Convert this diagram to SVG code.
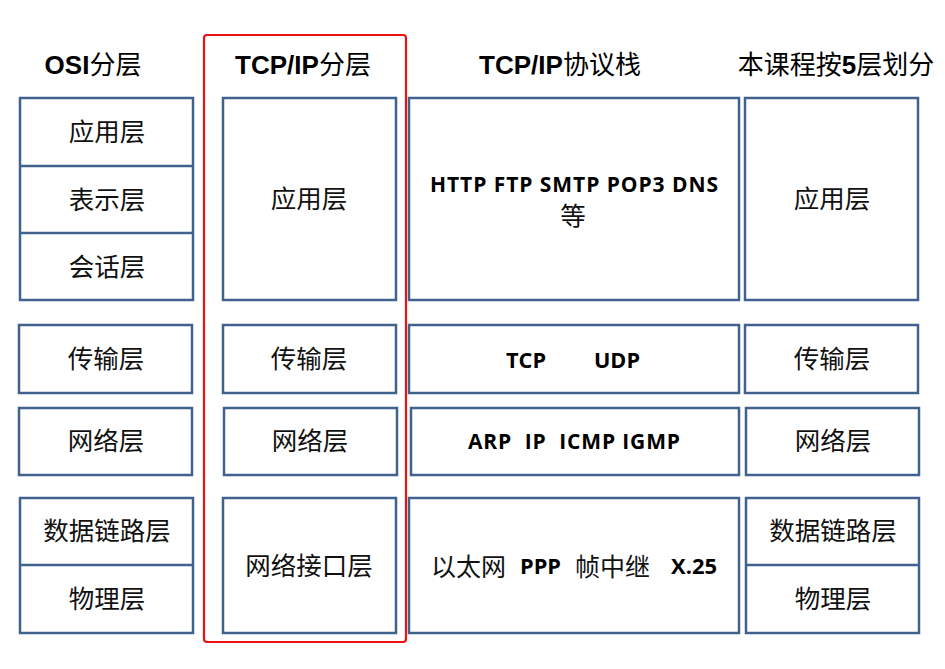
<svg xmlns="http://www.w3.org/2000/svg" width="945" height="669" viewBox="0 0 945 669">
<style>
.box{fill:#fff;stroke:#41618E;stroke-width:2.5}
.div{stroke:#41618E;stroke-width:2.5}
.t{font-family:"Noto Sans CJK SC","Noto Sans",sans-serif;font-size:25.5px;fill:#111;text-anchor:middle}
.title{font-family:"Noto Sans CJK SC",sans-serif;font-size:26px;fill:#000;text-anchor:middle}
.lb{font-family:"Liberation Sans",Arial,sans-serif;font-weight:bold}
.p{font-family:"Open Sans","Noto Sans",sans-serif;font-weight:bold;font-size:21px;fill:#000;text-anchor:middle}
.ps{font-family:"Open Sans","Noto Sans",sans-serif;font-weight:bold;font-size:21px;fill:#000}
.cs{font-family:"Noto Sans CJK SC",sans-serif;font-size:25px;fill:#111}
</style>
<rect width="945" height="669" fill="#fff"/>
<g id="titles">
<text class="title" x="93" y="74"><tspan class="lb">OSI</tspan>分层</text>
<text class="title" x="303" y="74"><tspan class="lb">TCP/IP</tspan>分层</text>
<text class="title" x="560" y="74"><tspan class="lb">TCP/IP</tspan>协议栈</text>
<text class="title" x="836" y="74">本课程按<tspan class="lb">5</tspan>层划分</text>
</g>
<g id="tcpip-frame"><rect x="204" y="35" width="202" height="607" rx="3" fill="none" stroke="#F01010" stroke-width="2.2"/></g>
<g id="osi">
<g id="osi-upper"><rect class="box" x="20" y="98" width="173" height="202"/><line class="div" x1="20" y1="166" x2="193" y2="166"/><line class="div" x1="20" y1="233" x2="193" y2="233"/>
<text class="t" x="107" y="141">应用层</text><text class="t" x="107" y="209">表示层</text><text class="t" x="107" y="276">会话层</text></g>
<g id="osi-transport"><rect class="box" x="19" y="325" width="173" height="68"/><text class="t" x="106" y="368">传输层</text></g>
<g id="osi-network"><rect class="box" x="19" y="408" width="173" height="67"/><text class="t" x="106" y="450">网络层</text></g>
<g id="osi-lower"><rect class="box" x="20" y="498" width="173" height="135"/><line class="div" x1="20" y1="565" x2="193" y2="565"/>
<text class="t" x="107" y="540">数据链路层</text><text class="t" x="107" y="608">物理层</text></g>
</g>
<g id="tcpip">
<g id="tcpip-app"><rect class="box" x="223" y="98" width="173" height="202"/><text class="t" x="309" y="208">应用层</text></g>
<g id="tcpip-transport"><rect class="box" x="223" y="325" width="173" height="68"/><text class="t" x="309" y="368">传输层</text></g>
<g id="tcpip-network"><rect class="box" x="224" y="408" width="173" height="67"/><text class="t" x="310" y="450">网络层</text></g>
<g id="tcpip-netif"><rect class="box" x="223" y="498" width="173" height="135"/><text class="t" x="309" y="575">网络接口层</text></g>
</g>
<g id="stack">
<g id="stack-app"><rect class="box" x="409" y="98" width="330" height="202"/>
<text class="p" x="574" y="192" textLength="288" lengthAdjust="spacing">HTTP FTP SMTP POP3 DNS</text>
<text class="t" x="573" y="225">等</text></g>
<g id="stack-transport"><rect class="box" x="409" y="325" width="330" height="68"/>
<text class="ps" x="506" y="368" textLength="40" lengthAdjust="spacingAndGlyphs">TCP</text><text class="ps" x="594" y="368" textLength="46" lengthAdjust="spacingAndGlyphs">UDP</text></g>
<g id="stack-network"><rect class="box" x="411" y="408" width="328" height="67"/>
<text class="ps" x="468" y="449" textLength="212" lengthAdjust="spacing" xml:space="preserve">ARP  IP  ICMP IGMP</text></g>
<g id="stack-link"><rect class="box" x="409" y="498" width="330" height="135"/>
<text class="cs" x="431" y="576">以太网</text><text class="ps" x="520" y="574" textLength="41" lengthAdjust="spacingAndGlyphs">PPP</text><text class="cs" x="575" y="576">帧中继</text><text class="ps" x="671" y="574" textLength="46" lengthAdjust="spacingAndGlyphs">X.25</text></g>
</g>
<g id="course">
<g id="course-app"><rect class="box" x="745" y="98" width="173" height="202"/><text class="t" x="832" y="208">应用层</text></g>
<g id="course-transport"><rect class="box" x="745" y="325" width="173" height="68"/><text class="t" x="832" y="368">传输层</text></g>
<g id="course-network"><rect class="box" x="746" y="408" width="173" height="67"/><text class="t" x="833" y="450">网络层</text></g>
<g id="course-lower"><rect class="box" x="746" y="498" width="173" height="135"/><line class="div" x1="746" y1="565" x2="919" y2="565"/>
<text class="t" x="833" y="540">数据链路层</text><text class="t" x="833" y="608">物理层</text></g>
</g>
<g id="connectors"/>
</svg>
